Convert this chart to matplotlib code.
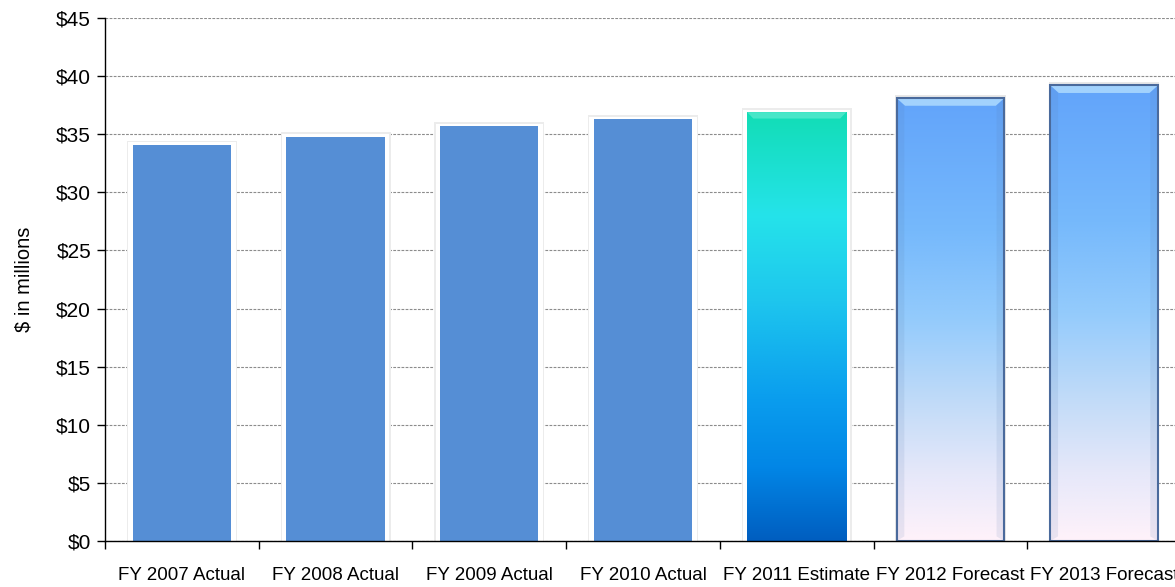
import numpy as np
import matplotlib
matplotlib.use("Agg")
import matplotlib.pyplot as plt
from matplotlib.colors import LinearSegmentedColormap
from matplotlib.patches import Polygon
from matplotlib.ticker import FixedLocator

plt.rcParams['font.family'] = ['Liberation Sans', 'DejaVu Sans']

categories = ["FY 2007 Actual", "FY 2008 Actual", "FY 2009 Actual", "FY 2010 Actual",
              "FY 2011 Estimate", "FY 2012 Forecast", "FY 2013 Forecast"]
values = [34.1, 34.8, 35.7, 36.3, 36.9, 38.1, 39.2]
kinds = ["actual", "actual", "actual", "actual", "estimate", "forecast", "forecast"]
yticks = [0, 5, 10, 15, 20, 25, 30, 35, 40, 45]
ytick_labels = ["$0", "$5", "$10", "$15", "$20", "$25", "$30", "$35", "$40", "$45"]
ylabel = "$ in millions"

solid_color = "#558ED5"
estimate_cmap = LinearSegmentedColormap.from_list("est", [
    (0.0, "#12DDB6"), (0.24, "#25E3EA"), (0.44, "#1EC6EE"),
    (0.67, "#0A9DEE"), (0.83, "#0286E6"), (1.0, "#005EC0")])
forecast_cmap = LinearSegmentedColormap.from_list("fc", [
    (0.0, "#62A4FA"), (0.3, "#76B9FC"), (0.5, "#94CBFC"),
    (0.7, "#C4DCF8"), (0.85, "#E6E8FA"), (1.0, "#FFF2FA")])

W, H = 1175, 587
fig = plt.figure(figsize=(W / 100, H / 100), dpi=100)
ax = fig.add_axes([105 / W, 46 / H, 1076 / W, 523 / H])
ax.set_xlim(-0.5, len(categories) - 0.5)
ax.set_ylim(0, 45)

# gridlines
ax.set_yticks(yticks)
ax.set_yticklabels(ytick_labels, fontsize=15)
ax.yaxis.grid(True, color="#8C8C8C", linestyle=(0, (2.5, 1.2)), linewidth=0.8)
ax.set_axisbelow(True)

x = np.arange(len(categories))
grad = np.linspace(0, 1, 256).reshape(-1, 1)

for xi, v, k in zip(x, values, kinds):
    if k in ("actual", "estimate"):
        # soft shadow + white frame
        ax.bar(xi, v + 0.35, width=0.715, color="#ECECEC", zorder=2)
        ax.bar(xi, v + 0.2, width=0.698, color="#FFFFFF", zorder=2.5)
        if k == "actual":
            ax.bar(xi, v, width=0.64, color=solid_color, zorder=3)
        else:
            b = ax.bar(xi, v, width=0.645, color="none", zorder=3)[0]
            im = ax.imshow(grad, cmap=estimate_cmap, aspect="auto",
                           extent=(xi - 0.33, xi + 0.33, 0, v), zorder=3,
                           interpolation="bicubic")
            im.set_clip_path(b)
            hw = 0.3225
            ax.add_patch(Polygon([(xi - hw, v), (xi + hw, v), (xi + hw - 0.04, v - 0.55),
                                  (xi - hw + 0.04, v - 0.55)], closed=True,
                                 facecolor="#7FF0DA", edgecolor="none", alpha=0.5, zorder=3.5))
    else:
        ax.bar(xi, v + 0.3, width=0.72, color="#E8E8E8", zorder=2)
        b = ax.bar(xi, v, width=0.70, color="none", edgecolor="#4A6A9C",
                   linewidth=1.5, zorder=4)[0]
        im = ax.imshow(grad, cmap=forecast_cmap, aspect="auto",
                       extent=(xi - 0.35, xi + 0.35, 0, v), zorder=3,
                       interpolation="bicubic")
        im.set_clip_path(b)
        hw = 0.35
        ax.add_patch(Polygon([(xi - hw, v), (xi + hw, v), (xi + hw - 0.055, v - 0.65),
                              (xi - hw + 0.055, v - 0.65)], closed=True,
                             facecolor="#B8E2FF", edgecolor="none", alpha=0.75, zorder=3.5))
        for s in (-1, 1):
            ax.add_patch(Polygon([(xi + s * hw, v), (xi + s * hw, 0),
                                  (xi + s * (hw - 0.05), 0.4), (xi + s * (hw - 0.05), v - 0.65)],
                                 closed=True, facecolor="#5878A8", edgecolor="none",
                                 alpha=0.12, zorder=3.5))

ax.set_xticks(x)
ax.set_xticklabels(categories, fontsize=13.5)
ax.tick_params(axis="x", which="major", length=0, pad=19)
ax.xaxis.set_minor_locator(FixedLocator(np.arange(-0.5, len(categories), 1.0)))
ax.tick_params(axis="x", which="minor", length=6, width=1, color="black", direction="out")
ax.tick_params(axis="y", length=6, width=1, color="black", direction="out", pad=4)

for s in ("top", "right"):
    ax.spines[s].set_visible(False)
for s in ("left", "bottom"):
    ax.spines[s].set_color("black")
    ax.spines[s].set_linewidth(1.0)
    ax.spines[s].set_zorder(6)

ax.set_ylabel(ylabel, fontsize=14.5, labelpad=16)

fig.savefig("out.png", dpi=100)
